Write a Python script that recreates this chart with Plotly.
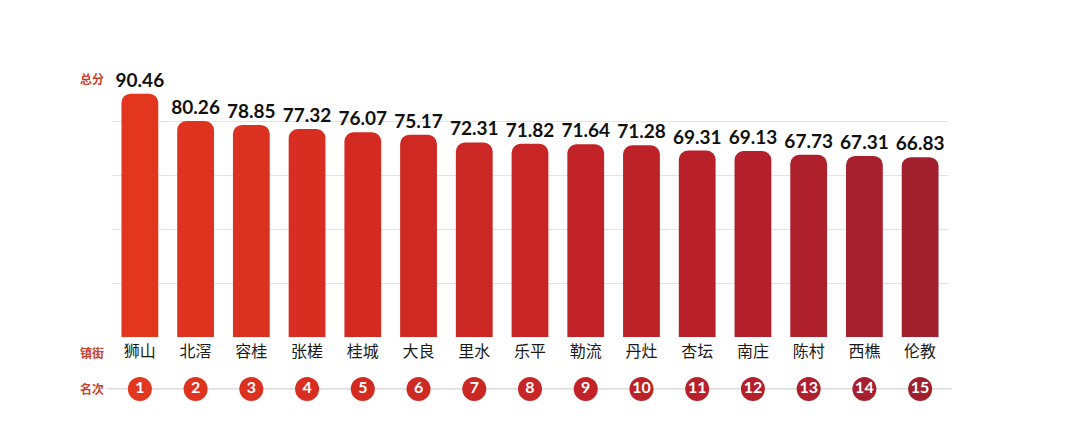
import plotly.graph_objects as go

# 数据
towns = ["狮山", "北滘", "容桂", "张槎", "桂城", "大良", "里水", "乐平",
         "勒流", "丹灶", "杏坛", "南庄", "陈村", "西樵", "伦教"]
scores = [90.46, 80.26, 78.85, 77.32, 76.07, 75.17, 72.31, 71.82,
          71.64, 71.28, 69.31, 69.13, 67.73, 67.31, 66.83]
ranks = list(range(1, 16))

# 从左到右由橙红渐变到暗红
bar_colors = ["#e2361e", "#df331f", "#db3120", "#d72e21", "#d32b22",
              "#cf2923", "#cb2724", "#c72526", "#c22328", "#bd2229",
              "#b8212a", "#b3202b", "#ad202c", "#a7202d", "#a1202e"]

LABEL_RED = "#c8432c"
RANK_Y = -19.3
TOWN_Y = -5.9

fig = go.Figure()

# 总分柱
fig.add_trace(go.Bar(
    x=towns, y=scores,
    marker=dict(color=bar_colors, cornerradius=9, line=dict(width=0)),
    width=0.66,
    text=[f"{s:.2f}" for s in scores],
    textposition="outside",
    constraintext="none",
    textfont=dict(family="Lato, Noto Sans", size=19, color="#111111", weight="bold"),
    cliponaxis=False,
    hoverinfo="skip",
))

# 镇街名称
fig.add_trace(go.Scatter(
    x=towns, y=[TOWN_Y] * len(towns),
    mode="text", text=towns,
    textfont=dict(family="Noto Sans CJK SC", size=16, color="#1a1a1a"),
    cliponaxis=False, hoverinfo="skip",
))

# 名次圆点
fig.add_trace(go.Scatter(
    x=towns, y=[RANK_Y] * len(towns),
    mode="markers+text", text=[str(r) for r in ranks],
    marker=dict(size=24, color=bar_colors, line=dict(width=0)),
    textfont=dict(family="Lato, Noto Sans", size=16, color="white", weight="bold"),
    textposition="middle center",
    cliponaxis=False, hoverinfo="skip",
))

# 名次横线
fig.add_shape(type="line", xref="paper", yref="y", x0=-0.006, x1=1.005,
              y0=RANK_Y, y1=RANK_Y, line=dict(color="#c8c8c8", width=1), layer="below")

for txt, yv in [("总分", 96), ("镇街", TOWN_Y), ("名次", RANK_Y)]:
    fig.add_annotation(text=txt, xref="paper", yref="y", x=-0.024, y=yv,
                       showarrow=False, xanchor="center", yanchor="middle",
                       font=dict(family="Noto Sans CJK SC", size=12, color=LABEL_RED, weight="bold"))

# 页面 body 自带 8px 边距，这里把边距往左上收一点
fig.update_layout(
    width=1080, height=436,
    margin=dict(l=104, r=140, t=60, b=8),
    paper_bgcolor="white", plot_bgcolor="white",
    showlegend=False,
)
fig.update_xaxes(range=[-0.5, 14.5], showticklabels=False, showgrid=False,
                 zeroline=False, showline=False)
fig.update_yaxes(range=[-36.8, 100], tickvals=[20, 40, 60, 80], showticklabels=False,
                 showgrid=True, gridcolor="#e3e3e3", gridwidth=1, zeroline=False, showline=False)

fig.write_html("out.html")
